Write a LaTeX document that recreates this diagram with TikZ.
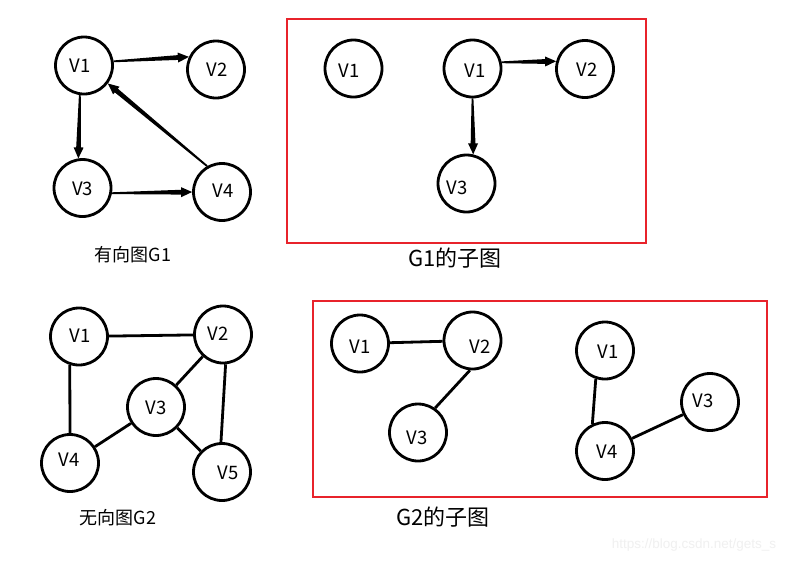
\documentclass[tikz,border=0pt]{standalone}
\usepackage{fontspec}
\setmainfont{Noto Sans CJK SC}
\newfontfamily\wmfont{Liberation Sans}
\usetikzlibrary{calc}
\definecolor{boxred}{HTML}{E8232B}
\tikzset{
  vtx/.style={circle,draw,line width=2.8pt,minimum size=57pt,inner sep=0pt},
  lbl/.style={inner sep=0pt,font=\fontsize{18.5}{20}\selectfont},
  edge/.style={line width=2.8pt},
  captext/.style={inner sep=0pt,font=\fontsize{18}{20}\selectfont},
  bigcaptext/.style={inner sep=0pt,font=\fontsize{22}{24}\selectfont},
  redbox/.style={draw=boxred,line width=2pt},
  wm/.style={inner sep=0pt,text=black!6,font=\wmfont\fontsize{13.5}{15}\selectfont}
}
\newcommand\vx[6]{\node[vtx,label={[lbl,xshift=#5pt,yshift=#6pt]center:#2}] (#1) at (#3,#4) {};}
\newcommand\tarrow[2]{%
  \path (#1) -- (#2) coordinate[pos=0] (ts) coordinate[pos=1] (te);
  \path ($(te)!11pt!(ts)$) coordinate (hb);
  \fill ($(ts)!0.9pt!90:(te)$) -- ($(hb)!2.4pt!90:(te)$) -- ($(hb)!5pt!90:(te)$) -- (te)
     -- ($(hb)!5pt!-90:(te)$) -- ($(hb)!2.4pt!-90:(te)$) -- ($(ts)!0.9pt!-90:(te)$) -- cycle;}
\begin{document}
\begin{tikzpicture}[x=1pt,y=-1pt]
\useasboundingbox[fill=white] (0,0) rectangle (799,563);
% ---- G1
\vx{a1}{V1}{84}{65.5}{-4}{0}
\vx{a2}{V2}{216}{69.5}{1}{0}
\vx{a3}{V3}{82.5}{188}{0}{-1}
\vx{a4}{V4}{222}{192}{1}{1}
\tarrow{a1.8}{a2.155}
\tarrow{a1.262}{a3.98}
\tarrow{a4.120}{a1.323}
\tarrow{a3.350}{a4.180}
\node[captext] (capa) at (133,255) {有向图G1};
% ---- G1 subgraphs
\draw[redbox] (287,19) rectangle (646,243);
\vx{s1}{V1}{353.5}{68.5}{-4.5}{-2.5}
\vx{s2}{V1}{472.5}{68.5}{2.5}{-2.5}
\vx{s3}{V2}{585}{69}{2}{-1}
\vx{s4}{V3}{466.5}{183.5}{-9.5}{-4.5}
\tarrow{s2.12}{s3.165}
\tarrow{s2.270}{s4.77}
\node[bigcaptext] (capb) at (455,258) {G1的子图};
% ---- G2
\vx{b1}{V1}{79}{336.5}{1}{1}
\vx{b2}{V2}{223}{334.5}{-5}{1}
\vx{b3}{V3}{156}{407}{0}{-1}
\vx{b4}{V4}{70}{463}{-1}{3}
\vx{b5}{V5}{222}{472}{6}{-1}
\draw[edge] (b1) -- (b2);
\draw[edge] (b1.252) -- (b4.north);
\draw[edge] (b2) -- (b3);
\draw[edge] (b4) -- (b3);
\draw[edge] (b3) -- (b5);
\draw[edge] (b2.275) -- (b5.92);
\node[captext] (capc) at (118,518) {无向图G2};
% ---- G2 subgraphs
\draw[redbox] (313,301) rectangle (767,497);
\vx{c1}{V1}{360}{343.5}{0}{-3}
\vx{c2}{V2}{472.5}{340.5}{7.5}{-6.5}
\vx{c3}{V3}{418}{432.5}{-1}{-5.5}
\vx{d1}{V1}{605}{350.5}{3}{-1.5}
\vx{d3}{V3}{710}{402}{-7}{1}
\vx{d4}{V4}{605}{451}{2}{-1}
\draw[edge] (c1) -- (c2);
\draw[edge] (c2.265) -- (c3.55);
\draw[edge] (d1.252) -- (d4.115);
\draw[edge] (d4) -- (d3);
\node[bigcaptext] (capd) at (443,517) {G2的子图};
% ---- watermark
\node[wm] (wmk) at (694,545) {https://blog.csdn.net/gets\_s};
\end{tikzpicture}
\end{document}
